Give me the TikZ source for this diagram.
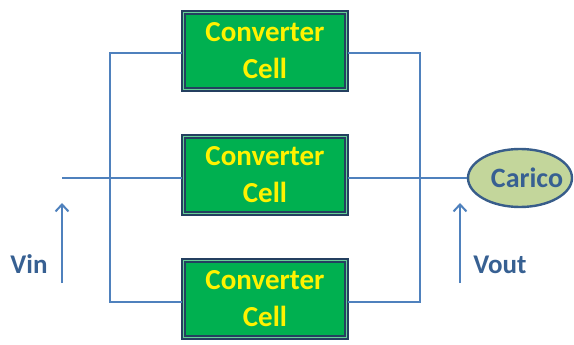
\documentclass[tikz,border=0pt]{standalone}
\usepackage{fontspec}
\setmainfont{Carlito}
\usetikzlibrary{shapes.geometric,arrows.meta}
\definecolor{wire}{HTML}{4F81BD}
\definecolor{cellgreen}{HTML}{00B050}
\definecolor{cellline}{HTML}{243F60}
\definecolor{labelblue}{HTML}{376092}
\definecolor{loadfill}{HTML}{C3D69B}
\definecolor{loadline}{HTML}{385D8A}
\tikzset{
  cellbox/.style={draw=cellline, line width=2.4pt, fill=cellgreen,
    minimum width=163pt, minimum height=77pt, inner sep=0pt,
    align=center, font=\fontsize{29}{37}\selectfont\bfseries, text=yellow,
    double=cellgreen!60!white, double distance=1pt},
  wireline/.style={draw=wire, line width=2pt},
  uparrow/.style={draw=wire, line width=2pt, -{Straight Barb[length=7pt,width=13pt,line width=2pt]}},
  vlabel/.style={font=\fontsize{27}{30}\selectfont\bfseries, text=labelblue, inner sep=0pt},
}
\begin{document}
\begin{tikzpicture}[x=1pt,y=-1pt]
  \useasboundingbox (0,0) rectangle (574,345);
  % parallel bus structure
  \coordinate (lt) at (110,53);
  \coordinate (lb) at (110,302);
  \coordinate (rt) at (420,53);
  \coordinate (rb) at (420,302);
  \coordinate (rm) at (420,178);
  \coordinate (inp) at (62,178);
  % converter cells
  \node[cellbox] (c1) at (265,51) {Converter\\Cell};
  \node[cellbox] (c2) at (265,175) {Converter\\Cell};
  \node[cellbox] (c3) at (265,299) {Converter\\Cell};
  % load
  \node[draw=loadline, line width=2.4pt, fill=loadfill, ellipse,
        minimum width=104pt, minimum height=58pt, inner sep=0pt,
        font=\fontsize{28}{30}\selectfont\bfseries, text=labelblue] (load) at (520,178)
        {\makebox[40pt]{\hspace{14pt}Carico}};
  % wiring
  \draw[wireline] (c1.west |- lt) -- (lt) -- (lb) -- (c3.west |- lb);
  \draw[wireline] (c1.east |- rt) -- (rt) -- (rb) -- (c3.east |- rb);
  \draw[wireline] (inp) -- (c2.west |- inp);
  \draw[wireline] (c2.east |- rm) -- (load.west);
  % voltage arrows
  \coordinate (vin0) at (62,283);
  \coordinate (vin1) at (62,203);
  \coordinate (vout0) at (460,283);
  \coordinate (vout1) at (460,203);
  \draw[uparrow] (vin0) -- (vin1);
  \draw[uparrow] (vout0) -- (vout1);
  \node[vlabel] (vin) at (29,264) {Vin};
  \node[vlabel] (vout) at (500,265) {Vout};
\end{tikzpicture}
\end{document}
